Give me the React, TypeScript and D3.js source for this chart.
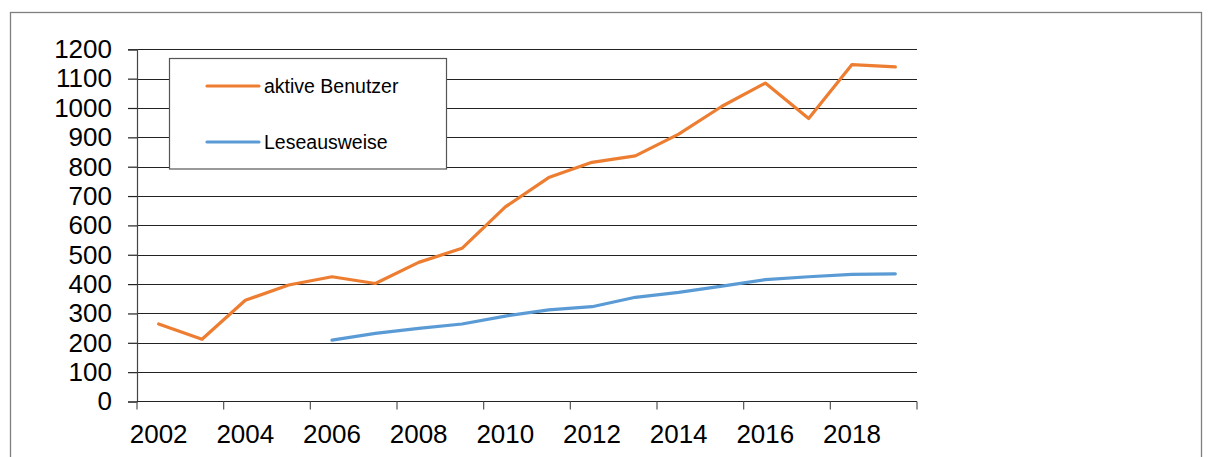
import { axisLeft, line, range, scaleBand, scaleLinear, select } from 'd3';
import React, { useEffect, useRef } from 'react';

const years = [
  2002, 2003, 2004, 2005, 2006, 2007, 2008, 2009, 2010,
  2011, 2012, 2013, 2014, 2015, 2016, 2017, 2018, 2019,
];
const aktiveBenutzer = [
  264, 212, 345, 397, 425, 402, 474, 522, 663,
  763, 815, 837, 911, 1006, 1085, 964, 1148, 1140,
];
// Leseausweise start in 2006
const leseausweise = [
  null, null, null, null, 209, 232, 249, 264, 291,
  312, 323, 355, 372, 393, 415, 425, 433, 435,
];
const yTicks = [0, 100, 200, 300, 400, 500, 600, 700, 800, 900, 1000, 1100, 1200];
const seriesNames = ['aktive Benutzer', 'Leseausweise'];
const colors = ['#ED7D31', '#5B9BD5'];

const W = 1209;
const H = 457;
const left = 137;
const right = 917;
const top = 49.3;
const bottom = 401.5;

function App() {
  const svgRef = useRef();

  useEffect(() => {
    const svg = select(svgRef.current);
    svg.selectAll('*').remove();

    const xScale = scaleBand()
      .domain(years.map(String))
      .range([left, right])
      .paddingInner(0)
      .paddingOuter(0);

    const yScale = scaleLinear() //
      .domain([0, 1200])
      .range([bottom, top]);

    // outer frame
    svg
      .append('rect')
      .attr('x', 10.5)
      .attr('y', 12.5)
      .attr('width', 1191)
      .attr('height', 470)
      .attr('fill', 'none')
      .attr('stroke', '#7f7f7f')
      .attr('stroke-width', 1.3);

    // gridlines
    svg
      .append('g')
      .selectAll('line')
      .data(yTicks.filter(d => d > 0))
      .join('line')
      .attr('x1', left)
      .attr('x2', right)
      .attr('y1', d => Math.round(yScale(d)) + 0.5)
      .attr('y2', d => Math.round(yScale(d)) + 0.5)
      .attr('stroke', '#222')
      .attr('stroke-width', 1.2);

    const yAxis = axisLeft(yScale)
      .tickValues(yTicks)
      .tickFormat(d => String(d))
      .tickSize(9)
      .tickPadding(16);
    const yg = svg.append('g').attr('transform', `translate(${left},0)`).call(yAxis);
    yg.select('.domain').attr('stroke', '#444').attr('stroke-width', 1.2);
    yg.selectAll('.tick line').attr('stroke', '#222').attr('stroke-width', 1.2);
    yg.selectAll('.tick text')
      .attr('font-family', '"Liberation Sans", Arial, sans-serif')
      .attr('font-size', 26)
      .attr('fill', '#000');

    // category axis: ticks between every second category, labels every second category
    const bw = xScale.bandwidth();
    const xg = svg.append('g');
    xg.append('line')
      .attr('x1', left)
      .attr('x2', right)
      .attr('y1', bottom)
      .attr('y2', bottom)
      .attr('stroke', '#222')
      .attr('stroke-width', 1.2);
    xg.selectAll('.xtick')
      .data(range(0, years.length + 1, 2))
      .join('line')
      .attr('class', 'xtick')
      .attr('x1', i => left + i * bw)
      .attr('x2', i => left + i * bw)
      .attr('y1', bottom)
      .attr('y2', bottom + 8)
      .attr('stroke', '#555')
      .attr('stroke-width', 1.2);
    xg.selectAll('.xlabel')
      .data(years.filter((d, i) => i % 2 === 0))
      .join('text')
      .attr('class', 'xlabel')
      .attr('x', d => xScale(String(d)) + bw / 2)
      .attr('y', 443)
      .attr('text-anchor', 'middle')
      .attr('font-family', '"Liberation Sans", Arial, sans-serif')
      .attr('font-size', 26)
      .attr('fill', '#000')
      .text(d => d);

    // lines
    const lineGen = line()
      .defined(d => d[1] != null)
      .x(d => xScale(String(d[0])) + bw / 2)
      .y(d => yScale(d[1]));

    [aktiveBenutzer, leseausweise].forEach((values, k) => {
      svg
        .append('path')
        .datum(years.map((y, i) => [y, values[i]]))
        .attr('d', lineGen)
        .attr('fill', 'none')
        .attr('stroke', colors[k])
        .attr('stroke-width', 3.2)
        .attr('stroke-linejoin', 'round')
        .attr('stroke-linecap', 'round');
    });

    // legend
    const legend = svg.append('g');
    legend
      .append('rect')
      .attr('x', 169.5)
      .attr('y', 58.5)
      .attr('width', 277)
      .attr('height', 110.5)
      .attr('fill', '#fff')
      .attr('stroke', '#555')
      .attr('stroke-width', 1.2);
    seriesNames.forEach((name, k) => {
      const ly = 86 + k * 56;
      legend
        .append('line')
        .attr('x1', 207)
        .attr('x2', 259)
        .attr('y1', ly)
        .attr('y2', ly)
        .attr('stroke', colors[k])
        .attr('stroke-width', 3.2)
        .attr('stroke-linecap', 'round');
      legend
        .append('text')
        .attr('x', 264)
        .attr('y', ly + 7)
        .attr('font-family', '"Liberation Sans", Arial, sans-serif')
        .attr('font-size', 19.5)
        .attr('fill', '#000')
        .text(name);
    });
  }, []);

  return (
    <svg
      ref={svgRef}
      width={W}
      height={H}
      style={{ position: 'absolute', left: 0, top: 0, background: '#fff' }}
    />
  );
}

export default App;
